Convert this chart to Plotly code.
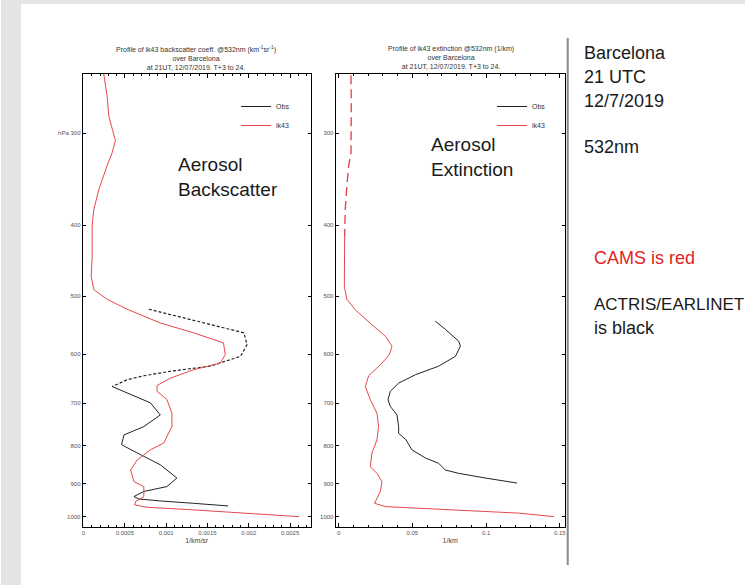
import numpy as np
import plotly.graph_objects as go

W, H = 747, 585

# ---------------- data (pressure hPa, values) ----------------
bsc_model_p = [249, 267, 284, 307, 319, 332, 358, 381, 400, 441, 470, 490, 505, 521, 544, 561,
               579, 601, 617, 630, 647, 662, 674, 692, 722, 753, 793, 810, 836, 863, 895, 909,
               938, 953, 963, 970, 978, 987, 999]
bsc_model = [0.000245, 0.000286, 0.000306, 0.000386, 0.000346, 0.000286, 0.000185, 0.000125,
             0.000105, 0.000105, 0.000093, 0.000125, 0.000286, 0.000528, 0.00093, 0.001332,
             0.001694, 0.001715, 0.001655, 0.001332, 0.00105, 0.00089, 0.00089, 0.00101,
             0.00107, 0.00107, 0.00097, 0.00081, 0.00065, 0.00057, 0.00061, 0.00073, 0.00073,
             0.00063, 0.00062, 0.00077, 0.00133, 0.00194, 0.00261]

bsc_obs_p = [521, 530, 547, 561, 582, 604, 623, 633, 642, 650, 664, 678, 699, 726, 753, 773,
             797, 818, 849, 885, 909, 923, 938, 945, 951, 958, 966]
bsc_obs = [0.00079, 0.00105, 0.00153, 0.00194, 0.00198, 0.0019, 0.00153, 0.00105, 0.00073,
           0.00053, 0.000346, 0.00053, 0.00081, 0.00093, 0.00073, 0.00049, 0.00046, 0.00065,
           0.00093, 0.00113, 0.00101, 0.00073, 0.00061, 0.00067, 0.00093, 0.00133, 0.00175]

ext_model_p = [250, 272, 319, 332, 354, 381, 414, 485, 505, 522, 547, 567, 585, 601, 617, 642,
               664, 692, 722, 753, 785, 818, 854, 872, 895, 923, 958, 968, 978, 988, 999]
ext_model = [0.0084, 0.0086, 0.0084, 0.0068, 0.0056, 0.0045, 0.0041, 0.0039, 0.0056, 0.0113,
             0.0226, 0.0317, 0.0362, 0.0344, 0.0294, 0.0204, 0.0181, 0.0215, 0.026, 0.0271,
             0.026, 0.0226, 0.0215, 0.026, 0.0294, 0.0283, 0.0244, 0.0317, 0.0769, 0.1221,
             0.1459]

ext_obs_p = [541, 555, 576, 585, 604, 623, 640, 657, 674, 692, 707, 726, 753, 769, 785, 810,
             831, 845, 863, 872, 885, 899]
ext_obs = [0.0656, 0.0724, 0.0814, 0.0826, 0.0792, 0.0678, 0.052, 0.0407, 0.0351, 0.0335,
           0.0351, 0.0396, 0.0407, 0.0407, 0.0457, 0.0497, 0.0588, 0.0678, 0.0724, 0.0814,
           0.0995, 0.121]

p_ticks = [300, 400, 500, 600, 700, 800, 900, 1000]
p_ticktext_left = ["hPa 300", "400", "500", "600", "700", "800", "900", "1000"]
p_ticktext_right = ["300", "400", "500", "600", "700", "800", "900", "1000"]
bsc_ticks = [0, 0.0005, 0.001, 0.0015, 0.002, 0.0025]
bsc_ticktext = ["0", "0.0005", "0.001", "0.0015", "0.002", "0.0025"]
ext_ticks = [0, 0.05, 0.1, 0.15]
ext_ticktext = ["0", "0.05", "0.1", "0.15"]

RED = "#e5484d"
BLK = "#222222"

fig = go.Figure()

# ---- backscatter panel ----
fig.add_trace(go.Scatter(x=bsc_obs[:11], y=bsc_obs_p[:11], mode="lines", name="Obs",
                         line=dict(color=BLK, width=1.2, dash="3px,2px"), legend="legend",
                         showlegend=False, legendgroup="o1", xaxis="x", yaxis="y"))
fig.add_trace(go.Scatter(x=bsc_obs[10:], y=bsc_obs_p[10:], mode="lines", name="Obs",
                         line=dict(color=BLK, width=1), legend="legend",
                         legendgroup="o1", xaxis="x", yaxis="y"))
fig.add_trace(go.Scatter(x=bsc_model, y=bsc_model_p, mode="lines", name="ik43",
                         line=dict(color=RED, width=1), legend="legend",
                         xaxis="x", yaxis="y"))

# ---- extinction panel ----
fig.add_trace(go.Scatter(x=ext_obs, y=ext_obs_p, mode="lines", name="Obs",
                         line=dict(color=BLK, width=1), legend="legend2",
                         xaxis="x2", yaxis="y2"))
fig.add_trace(go.Scatter(x=ext_model[:7], y=ext_model_p[:7], mode="lines", name="ik43",
                         line=dict(color=RED, width=1.4, dash="9px,5px"), legend="legend2",
                         showlegend=False, legendgroup="m2", xaxis="x2", yaxis="y2"))
fig.add_trace(go.Scatter(x=ext_model[6:], y=ext_model_p[6:], mode="lines", name="ik43",
                         line=dict(color=RED, width=1), legend="legend2",
                         legendgroup="m2", xaxis="x2", yaxis="y2"))

T, B = 74, 527
ydom = [1 - B / H, 1 - T / H]
yrange = [np.log10(1032), np.log10(249)]
tickfont = dict(family="Liberation Sans", size=6, color="#555")

common_x = dict(showgrid=False, zeroline=False, showline=True, linecolor="black", linewidth=1,
                mirror="ticks", ticks="inside", ticklen=4, tickcolor="black", tickfont=tickfont,
                tickmode="array")
common_y = dict(showgrid=False, zeroline=False, showline=True, linecolor="black", linewidth=1,
                mirror="ticks", ticks="inside", ticklen=3, tickcolor="black", tickfont=tickfont,
                type="log", range=yrange, domain=ydom, tickmode="array", tickvals=p_ticks)

fig.update_layout(
    width=W, height=H, margin=dict(l=0, r=0, t=0, b=0),
    paper_bgcolor="white", plot_bgcolor="rgba(0,0,0,0)",
    xaxis=dict(common_x, domain=[82 / W, 311 / W], range=[-0.00001, 0.00275],
               tickvals=bsc_ticks, ticktext=bsc_ticktext,
               minor=dict(dtick=0.0001, ticks="inside", ticklen=2, tickcolor="black"),
               title=dict(text="1/km/sr", font=dict(family="Liberation Sans", size=7, color="#444"), standoff=2),
               anchor="y"),
    yaxis=dict(common_y, ticktext=p_ticktext_left, anchor="x"),
    xaxis2=dict(common_x, domain=[336 / W, 566 / W], range=[-0.002, 0.1533],
                tickvals=ext_ticks, ticktext=ext_ticktext,
                minor=dict(dtick=0.01, ticks="inside", ticklen=2, tickcolor="black"),
                title=dict(text="1/km", font=dict(family="Liberation Sans", size=7, color="#444"), standoff=2),
                anchor="y2"),
    yaxis2=dict(common_y, ticktext=p_ticktext_right, anchor="x2"),
    legend=dict(x=236 / W, y=1 - 92 / H, xanchor="left", yanchor="top", bgcolor="rgba(0,0,0,0)",
                font=dict(family="Liberation Sans", size=7, color="#333"), tracegroupgap=0,
                itemwidth=30),
    legend2=dict(x=493 / W, y=1 - 92 / H, xanchor="left", yanchor="top", bgcolor="rgba(0,0,0,0)",
                 font=dict(family="Liberation Sans", size=7, color="#333"), tracegroupgap=0,
                 itemwidth=30),
)

# slide surround (gray strips at left and top)
fig.add_shape(type="rect", xref="paper", yref="paper", x0=0, x1=20 / W, y0=0, y1=1,
              fillcolor="#e4e4e4", line=dict(width=0), layer="above")
fig.add_shape(type="rect", xref="paper", yref="paper", x0=0, x1=1, y0=1 - 4 / H, y1=1,
              fillcolor="#e4e4e4", line=dict(width=0), layer="above")
# divider line
fig.add_shape(type="line", xref="paper", yref="paper", x0=569 / W, x1=569 / W,
              y0=1 - 565 / H, y1=1 - 38 / H, line=dict(color="#8a8a8a", width=2))

tfont = dict(family="Liberation Sans", size=7, color="#333")
fig.add_annotation(xref="paper", yref="paper", x=196 / W, y=1 - 58 / H, xanchor="center",
                   yanchor="middle", showarrow=False, font=tfont, align="center",
                   text="Profile of ik43 backscatter coeff. @532nm (km<sup>-1</sup>sr<sup>-1</sup>)<br>over Barcelona<br>at 21UT, 12/07/2019. T+3 to 24.")
fig.add_annotation(xref="paper", yref="paper", x=452 / W, y=1 - 58 / H, xanchor="center",
                   yanchor="middle", showarrow=False, font=tfont, align="center",
                   text="Profile of ik43 extinction @532nm (1/km)<br>over Barcelona<br>at 21UT, 12/07/2019. T+3 to 24.")

big = dict(family="Liberation Sans", size=19, color="#1a1a1a")
fig.add_annotation(xref="paper", yref="paper", x=176 / W, y=1 - 177 / H, xanchor="left",
                   yanchor="middle", showarrow=False, font=big, align="left",
                   text="Aerosol<br>Backscatter")
fig.add_annotation(xref="paper", yref="paper", x=430 / W, y=1 - 157 / H, xanchor="left",
                   yanchor="middle", showarrow=False, font=big, align="left",
                   text="Aerosol<br>Extinction")

side = [("Barcelona", 583, 53, "#1a1a1a", 18), ("21 UTC", 583, 77, "#1a1a1a", 18),
        ("12/7/2019", 583, 101, "#1a1a1a", 18), ("532nm", 583, 147, "#1a1a1a", 18),
        ("CAMS is red", 593, 258, "#e02424", 18), ("ACTRIS/EARLINET", 593, 304, "#1a1a1a", 17),
        ("is black", 593, 328, "#1a1a1a", 18)]
for txt, x, y, c, s in side:
    fig.add_annotation(xref="paper", yref="paper", x=x / W, y=1 - y / H, xanchor="left",
                       yanchor="middle", showarrow=False, text=txt,
                       font=dict(family="Liberation Sans", size=s, color=c))

fig.write_html("out.html", config={"displayModeBar": False},
               post_script="document.body.style.margin='0';document.body.style.padding='0';")
